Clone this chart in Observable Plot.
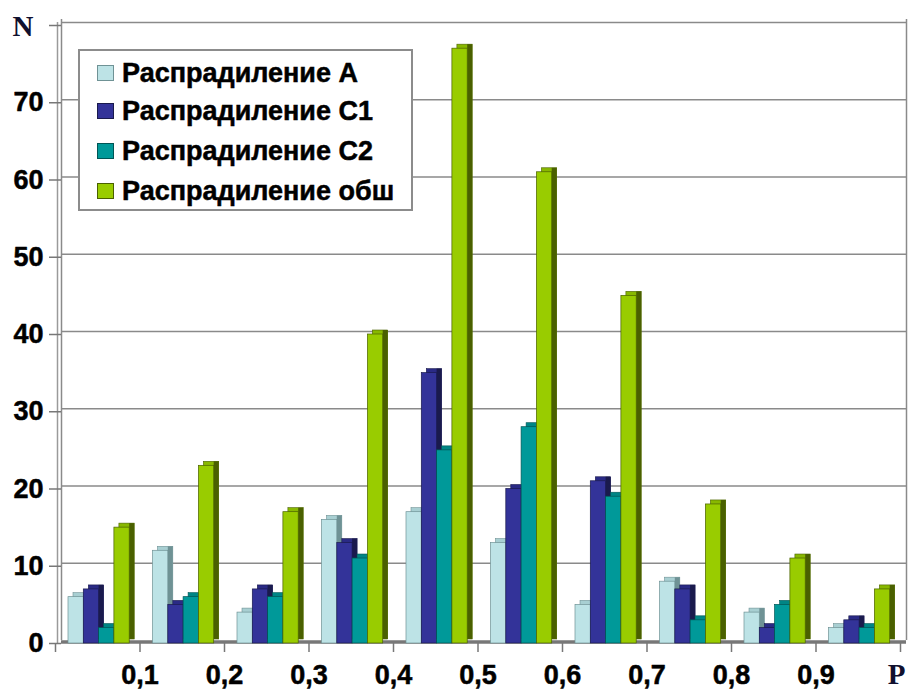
<!DOCTYPE html>
<html><head><meta charset="utf-8">
<script src="https://cdn.jsdelivr.net/npm/d3@7"></script>
<script src="https://cdn.jsdelivr.net/npm/@observablehq/plot@0.6"></script>
<style>
body{margin:0;background:#fff;font-family:"Liberation Sans",Arial,sans-serif;}
#wrap{position:relative;width:910px;height:691px;}
#legend{position:absolute;left:78px;top:49px;width:331px;height:158px;border:2px solid #8c8c8c;background:#fff;}
.item{position:absolute;left:17px;height:30px;display:flex;align-items:center;font-weight:bold;font-size:27px;color:#000;white-space:nowrap;-webkit-text-stroke:0.5px #000;}
.sw{width:15px;height:14px;border:1px solid #555;margin-right:8px;}
</style></head><body><div id="wrap"></div>
<script>
const binStart = [0, 0.1, 0.2, 0.3, 0.4, 0.5, 0.6, 0.7, 0.8, 0.9];
const boundaries = [0, 0.1, 0.2, 0.3, 0.4, 0.5, 0.6, 0.7, 0.8, 0.9, 1.0];
const xTickValues = [0.1, 0.2, 0.3, 0.4, 0.5, 0.6, 0.7, 0.8, 0.9];
const xTickLabels = ["0,1", "0,2", "0,3", "0,4", "0,5", "0,6", "0,7", "0,8", "0,9"];
const yTicks = [0, 10, 20, 30, 40, 50, 60, 70];
const yTickMarks = [0, 10, 20, 30, 40, 50, 60, 70, 80];
const gridTicks = [10, 20, 30, 40, 50, 60, 70, 80];
const seriesNames = ["Распрадиление A", "Распрадиление C1", "Распрадиление C2", "Распрадиление обш"];
const valuesA = [6, 12, 4, 16, 17, 13, 5, 8, 4, 2];
const valuesC1 = [7, 5, 7, 13, 35, 20, 21, 7, 2, 3];
const valuesC2 = [2, 6, 6, 11, 25, 28, 19, 3, 5, 2];
const valuesTotal = [15, 23, 17, 40, 77, 61, 45, 18, 11, 7];
const frontColors = ["#bde3e6", "#333399", "#009999", "#99cc00"];
const topColors = ["#a8cfd2", "#2a2a85", "#008585", "#88b800"];
const sideColors = ["#6f9295", "#1a1a4d", "#005555", "#4a6000"];

const allValues = [valuesA, valuesC1, valuesC2, valuesTotal];
const rows = [];
allValues.forEach((vals, j) => vals.forEach((v, i) => rows.push({s: j, x1: binStart[i], x2: binStart[i] + 0.1, v})));

const groupPx = 84.5, barW = 15.3, gap0 = 13, depthX = 5, depthY = 4;
const sans = "Liberation Sans, Arial, sans-serif";
const serif = "Liberation Serif, Times New Roman, serif";
const marks = [];
// back wall grid + frame
marks.push(Plot.ruleY(gridTicks, {y: d => d, dy: -3, stroke: "#8a8a8a", strokeWidth: 1.5}));
marks.push(Plot.ruleX([0], {x: d => d, dx: 6, dy: -3, stroke: "#8a8a8a", strokeWidth: 1.5}));
marks.push(Plot.ruleX([0], {x: d => d, dx: 2, stroke: "#9a9a9a", strokeWidth: 1.5}));
marks.push(Plot.ruleX([1], {x: d => d, dx: 6, dy: -3, stroke: "#8a8a8a", strokeWidth: 1.5}));
// floor
marks.push(Plot.ruleY([0], {y: d => d, dy: -1.5, stroke: "#777", strokeWidth: 3.5}));
for (let j = 0; j < 4; j++) {
  const data = rows.filter(r => r.s === j);
  const iL = gap0 + barW * j;
  const iR = groupPx - gap0 - barW * (j + 1);
  marks.push(Plot.rectY(data, {x1: "x1", x2: "x2", y1: 0, y2: "v", insetLeft: iL, insetRight: iR, dx: depthX, dy: -depthY, fill: topColors[j], stroke: sideColors[j], strokeWidth: 0.6}));
  marks.push(Plot.rectY(data, {x1: "x1", x2: "x2", y1: 0, y2: "v", insetLeft: iL + barW - depthX, insetRight: iR, dx: depthX, dy: -depthY, fill: sideColors[j]}));
  marks.push(Plot.rectY(data, {x1: "x1", x2: "x2", y1: 0, y2: "v", insetLeft: iL, insetRight: iR, fill: frontColors[j], stroke: sideColors[j], strokeWidth: 0.7}));
}
// axes
marks.push(Plot.axisY(yTickMarks, {anchor: "left", tickSize: 12, tickPadding: 5, stroke: "#777", strokeWidth: 1.5, label: null, tickFormat: () => ""}));
marks.push(Plot.text(yTicks, {y: d => d, text: d => String(d), frameAnchor: "left", textAnchor: "end", dx: -18, fontSize: 27, fontWeight: "bold", fontFamily: sans, fill: "#000", stroke: "#000", strokeWidth: 0.5}));
marks.push(Plot.axisX(boundaries, {anchor: "bottom", tickSize: 9, stroke: "#777", strokeWidth: 1.5, tickFormat: () => "", label: null}));
marks.push(Plot.text(xTickLabels, {x: (d, i) => xTickValues[i], text: d => d, frameAnchor: "bottom", dy: 40, fontSize: 27, fontWeight: "bold", fontFamily: sans, fill: "#000", stroke: "#000", strokeWidth: 0.5}));
marks.push(Plot.text(["N"], {text: d => d, frameAnchor: "top-left", dx: -49, dy: -7, fontSize: 29, fontWeight: "bold", fontFamily: serif, fill: "#10102e", textAnchor: "start"}));
marks.push(Plot.text(["P"], {text: d => d, frameAnchor: "bottom-right", dx: -1, dy: 40, fontSize: 29, fontWeight: "bold", fontFamily: serif, fill: "#10102e", textAnchor: "end"}));

const chart = Plot.plot({
  width: 910, height: 691,
  marginLeft: 61, marginRight: 4, marginTop: 22, marginBottom: 48,
  x: {domain: [0, 1], range: [55, 900], axis: null},
  y: {domain: [0, 80], range: [643, 25], axis: null},
  style: {background: "#fff", overflow: "visible", fontFamily: sans},
  marks
});
const wrap = document.getElementById("wrap");
wrap.appendChild(chart);
const legend = document.createElement("div");
legend.id = "legend";
const rowTops = [7, 45, 85, 125];
seriesNames.forEach((name, j) => {
  const it = document.createElement("div");
  it.className = "item";
  it.style.top = rowTops[j] + "px";
  const sw = document.createElement("span");
  sw.className = "sw";
  sw.style.background = frontColors[j];
  sw.style.borderColor = sideColors[j];
  const t = document.createElement("span");
  t.textContent = name;
  it.appendChild(sw); it.appendChild(t);
  legend.appendChild(it);
});
wrap.appendChild(legend);
</script></body></html>
